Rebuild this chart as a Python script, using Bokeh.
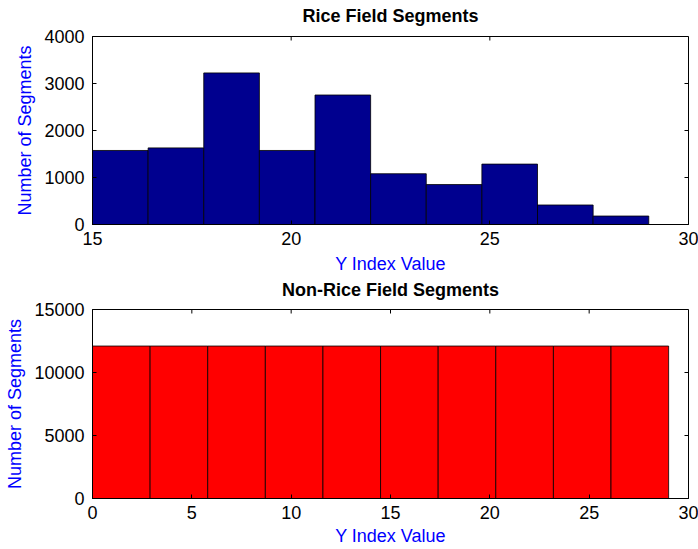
import math
from bokeh.plotting import figure
from bokeh.models import FixedTicker, Range1d
from bokeh.layouts import column
from bokeh.embed import file_html
from bokeh.resources import INLINE

# ---- data ----
rice_bin_left = [15.0, 16.4, 17.8, 19.2, 20.6, 22.0, 23.4, 24.8, 26.2, 27.6]
rice_bin_right = [16.4, 17.8, 19.2, 20.6, 22.0, 23.4, 24.8, 26.2, 27.6, 29.0]
rice_counts = [1575, 1630, 3225, 1575, 2755, 1080, 850, 1285, 415, 180]

nonrice_bin_left = [0.0, 2.9, 5.8, 8.7, 11.6, 14.5, 17.4, 20.3, 23.2, 26.1]
nonrice_bin_right = [2.9, 5.8, 8.7, 11.6, 14.5, 17.4, 20.3, 23.2, 26.1, 29.0]
nonrice_counts = [12100, 12100, 12100, 12100, 12100, 12100, 12100, 12100, 12100, 12100]

rice_xticks = [15, 20, 25, 30]
rice_yticks = [0, 1000, 2000, 3000, 4000]
nonrice_xticks = [0, 5, 10, 15, 20, 25, 30]
nonrice_yticks = [0, 5000, 10000, 15000]

FONT = "Liberation Sans"
TICK_LEN = 4


def make_fig(title, left, right, counts, color, xr, yr, xticks, yticks,
             frame_h, top_b, bottom_b, title_standoff, xlab_standoff, xaxis_standoff):
    p = figure(x_range=Range1d(*xr), y_range=Range1d(*yr),
               output_backend="svg", toolbar_location=None,
               min_border_left=92, min_border_right=10,
               min_border_top=top_b, min_border_bottom=bottom_b,
               frame_width=596, frame_height=frame_h)
    p.title.text = title
    p.title.align = "center"
    p.title.vertical_align = "top"
    p.title.text_font = FONT
    p.title.text_font_size = "18px"
    p.title.text_font_style = "bold"
    p.title.text_color = "black"
    p.title.standoff = title_standoff

    p.quad(left=left, right=right, top=counts, bottom=0,
           fill_color=color, line_color="black", line_width=0.8)

    # inward ticks on the right and top edges (MATLAB box style)
    p.ray(x=[xr[1]] * len(yticks), y=yticks, length=TICK_LEN, angle=math.pi,
          length_units="screen", line_color="black", line_width=1)
    p.ray(x=xticks, y=[yr[1]] * len(xticks), length=TICK_LEN, angle=-math.pi / 2,
          length_units="screen", line_color="black", line_width=1)

    p.xgrid.visible = False
    p.ygrid.visible = False
    p.outline_line_color = "black"
    p.outline_line_width = 1
    p.outline_line_alpha = 1

    for ax, ticks in ((p.xaxis[0], xticks), (p.yaxis[0], yticks)):
        ax.ticker = FixedTicker(ticks=ticks)
        ax.major_tick_in = TICK_LEN
        ax.major_tick_out = 0
        ax.minor_tick_line_color = None
        ax.axis_line_color = "black"
        ax.major_label_text_font = FONT
        ax.major_label_text_font_size = "18px"
        ax.major_label_text_color = "black"
        ax.axis_label_text_font = FONT
        ax.axis_label_text_font_size = "18px"
        ax.axis_label_text_font_style = "normal"
        ax.axis_label_text_color = "#0000FF"
    p.xaxis[0].major_label_standoff = xlab_standoff
    p.xaxis[0].axis_label_standoff = xaxis_standoff
    p.yaxis[0].major_label_standoff = 8
    p.yaxis[0].axis_label_standoff = 6
    p.xaxis[0].axis_label = "Y Index Value"
    p.yaxis[0].axis_label = "Number of Segments"
    return p


p1 = make_fig("Rice Field Segments", rice_bin_left, rice_bin_right, rice_counts,
              "#00008F", (15, 30), (0, 4000), rice_xticks, rice_yticks,
              frame_h=188, top_b=38, bottom_b=50, title_standoff=17,
              xlab_standoff=7, xaxis_standoff=6)
p2 = make_fig("Non-Rice Field Segments", nonrice_bin_left, nonrice_bin_right, nonrice_counts,
              "#FF0000", (0, 30), (0, 15000), nonrice_xticks, nonrice_yticks,
              frame_h=189, top_b=37, bottom_b=48, title_standoff=16,
              xlab_standoff=7, xaxis_standoff=4)
p1.styles = {"margin-top": "-3px"}
p2.styles = {"margin-top": "-5px"}
p2.border_fill_alpha = 0

layout = column(p1, p2)
open("out.html", "w").write(file_html(layout, INLINE))
